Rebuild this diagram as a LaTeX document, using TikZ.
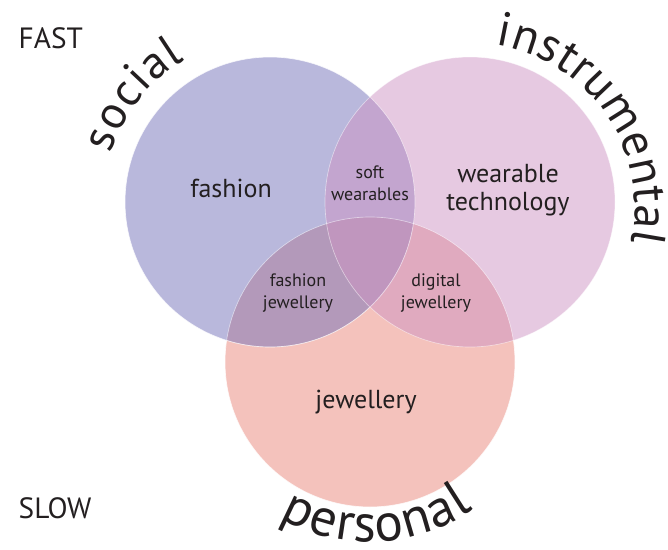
\documentclass[tikz,border=0pt]{standalone}
\usepackage{fontspec}
\setmainfont{PT Sans}
\usetikzlibrary{decorations.text}
\definecolor{socialc}{HTML}{7371B9}
\definecolor{instrc}{HTML}{CD93C3}
\definecolor{persc}{HTML}{E98579}
\definecolor{ink}{HTML}{231F20}
\tikzset{
    set/.style={fill=#1, fill opacity=0.5, draw=white, draw opacity=0.5, line width=0.5pt},
    big/.style={text=ink, font=\fontsize{19.5}{20.5}\selectfont, align=center},
    small/.style={text=ink, font=\fontsize{13.5}{16.5}\selectfont, align=center},
    speed/.style={text=ink, font=\fontsize{22}{26}\selectfont, anchor=base west},
    arclabel/.style 2 args={decorate, decoration={text along path,
        text align=fit to path, text color=ink,
        text={|\fontsize{#1}{#1}\selectfont|#2}}}
}

\begin{document}
\begin{tikzpicture}[x=0.75pt,y=-0.75pt]
\useasboundingbox (0,0) rectangle (668,550);
% the three sets, personal at the bottom
\coordinate (P) at (370,362);
\coordinate (S) at (270,202);
\coordinate (I) at (470,202);
\fill[set=persc]   (P) circle[radius=145];
\fill[set=socialc] (S) circle[radius=145];
\fill[set=instrc]  (I) circle[radius=145];
\draw[set=persc,fill=none]   (P) circle[radius=145];
\draw[set=socialc,fill=none] (S) circle[radius=145];
% set names on arcs
\path[arclabel={35}{social}] (S) ++(-163:166) arc[start angle=-163, end angle=-121, radius=166];
\path[arclabel={36}{instrumental}] (470,208) ++(-81:165) arc[start angle=-81, end angle=12, radius=165];
\path[arclabel={40}{personal}] (P) ++(-240:180) arc[start angle=-240, end angle=-305, radius=180];
% region labels
\node(F)   [big,anchor=base] at (231,197) {fashion};
\node(WT)  [big] at (508,190) {wearable\\technology};
\node(J)   [big,anchor=base] at (366,408) {jewellery};
\node(SW)  [small] at (370,183) {soft\\wearables};
\node(FJ)  [small] at (298,293) {fashion\\jewellery};
\node(DJ)  [small] at (436,293) {digital\\jewellery};
% speed axis
\node(FAST) [speed] at (14,48) {FAST};
\node(SLOW) [speed] at (14,518) {SLOW};
\end{tikzpicture}
\end{document}
